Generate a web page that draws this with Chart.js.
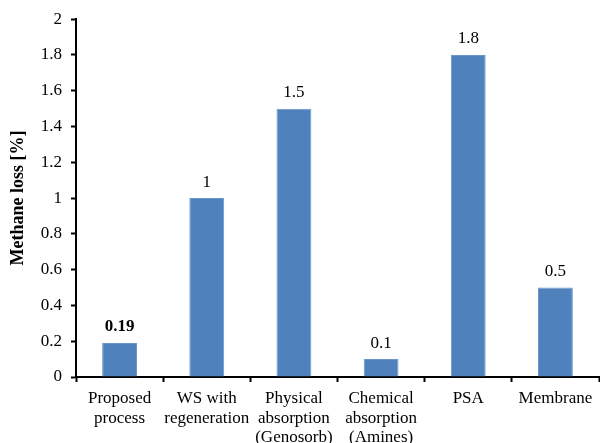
<!DOCTYPE html>
<html lang="en">
<head>
    <meta charset="UTF-8">
    <title>Methane loss</title>
    <script src="https://cdn.jsdelivr.net/npm/chart.js"></script>
    <style>
        body { margin: 0; background: #fff; }
        #wrap { width: 600px; height: 443px; }
    </style>
</head>
<body>
<div id="wrap"><canvas id="grafico"></canvas></div>
<script>
    // dados
    const categorias = [
        ['Proposed', 'process'],
        ['WS with', 'regeneration'],
        ['Physical', 'absorption', '(Genosorb)'],
        ['Chemical', 'absorption', '(Amines)'],
        ['PSA'],
        ['Membrane']
    ];
    const perdaMetano = [0.19, 1, 1.5, 0.1, 1.8, 0.5];
    const rotulos = ['0.19', '1', '1.5', '0.1', '1.8', '0.5'];

    const fonte = "'Liberation Serif', 'Times New Roman', serif";

    // escreve o valor em cima de cada barra
    const rotulosBarras = {
        id: 'rotulosBarras',
        afterDatasetsDraw(chart) {
            const ctx = chart.ctx;
            const meta = chart.getDatasetMeta(0);
            ctx.save();
            ctx.fillStyle = '#000';
            ctx.textAlign = 'center';
            ctx.textBaseline = 'middle';
            meta.data.forEach(function (barra, i) {
                ctx.font = (i === 0 ? 'bold ' : '') + '17px ' + fonte;
                ctx.fillText(rotulos[i], barra.x, barra.y - 16);
            });
            ctx.restore();
        }
    };

    new Chart(document.getElementById('grafico'), {
        type: 'bar',
        data: {
            labels: categorias,
            datasets: [{
                data: perdaMetano,
                backgroundColor: '#4F81BD',
                borderColor: '#6B97CC',
                borderWidth: 1,
                categoryPercentage: 1,
                barPercentage: 0.4
            }]
        },
        options: {
            responsive: true,
            maintainAspectRatio: false,
            animation: false,
            layout: { padding: { top: 19, right: 1, left: 0, bottom: 0 } },
            plugins: {
                legend: { display: false },
                tooltip: { enabled: false }
            },
            scales: {
                x: {
                    afterFit: function (axis) { axis.height = 66; },
                    border: { color: '#000', width: 2 },
                    grid: {
                        drawOnChartArea: false,
                        drawTicks: true,
                        tickLength: 5,
                        tickColor: '#000',
                        tickWidth: 2
                    },
                    ticks: {
                        color: '#000',
                        padding: 7,
                        maxRotation: 0,
                        autoSkip: false,
                        font: { family: fonte, size: 17, lineHeight: 1.15 }
                    }
                },
                y: {
                    min: 0,
                    max: 2,
                    afterFit: function (axis) { axis.width = 76; },
                    border: { color: '#000', width: 2 },
                    grid: {
                        drawOnChartArea: false,
                        tickLength: 5,
                        tickColor: '#000',
                        tickWidth: 2
                    },
                    ticks: {
                        stepSize: 0.2,
                        color: '#000',
                        padding: 9,
                        font: { family: fonte, size: 17 },
                        callback: function (v) { return Math.round(v * 10) / 10; }
                    },
                    title: {
                        display: true,
                        text: 'Methane loss [%]',
                        color: '#000',
                        padding: { top: 8, bottom: 0 },
                        font: { family: fonte, size: 18, weight: 'bold' }
                    }
                }
            }
        },
        plugins: [rotulosBarras]
    });
</script>
</body>
</html>
